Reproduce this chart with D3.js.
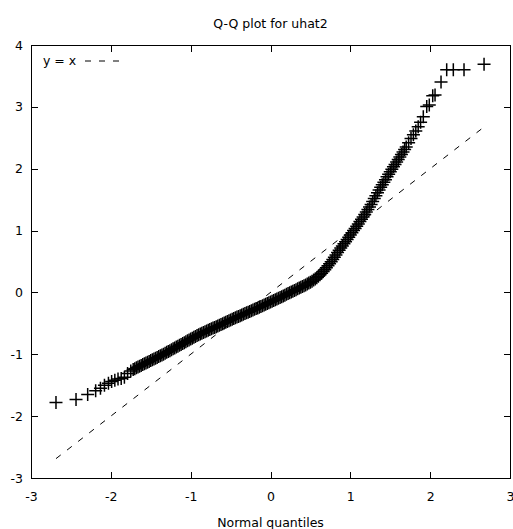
<!DOCTYPE html>
<html>
<head>
<meta charset="utf-8">
<script src="https://cdn.jsdelivr.net/npm/d3@7"></script>
<style>
body { margin: 0; background: #fff; }
svg { display: block; font-family: "DejaVu Sans", sans-serif; }
</style>
</head>
<body>
<svg width="513" height="529"></svg>
<script>
// normal quantiles (x) and sorted residuals of uhat2 (y)
var normalQ = [
  -2.687, -2.436, -2.29, -2.19, -2.13, -2.08, -2.03, -1.99, -1.95, -1.91, -1.87, -1.83, -1.79, -1.75,
  -1.72, -1.70, -1.68, -1.66, -1.64, -1.62, -1.60, -1.58, -1.56, -1.54, -1.52, -1.50, -1.48, -1.46,
  -1.44, -1.42, -1.40, -1.38, -1.36,
  -1.34, -1.32, -1.30, -1.28, -1.26, -1.24, -1.22, -1.20, -1.18, -1.16, -1.14, -1.12, -1.10, -1.08,
  -1.06, -1.04, -1.02, -1.00, -0.98, -0.96, -0.94,
  -0.92, -0.90, -0.88, -0.86, -0.84, -0.82, -0.80, -0.78, -0.76, -0.74, -0.72, -0.70, -0.68, -0.66,
  -0.64, -0.62, -0.60, -0.58, -0.56, -0.54, -0.52, -0.50,
  -0.48, -0.46, -0.44, -0.42, -0.40, -0.38, -0.36, -0.34, -0.32, -0.30, -0.28, -0.26, -0.24, -0.22,
  -0.20, -0.18, -0.16, -0.14, -0.12, -0.10,
  -0.08, -0.06, -0.04, -0.02, 0.00, 0.02, 0.04, 0.06, 0.08, 0.10,
  0.12, 0.14, 0.16, 0.18, 0.20, 0.22, 0.24, 0.26, 0.28, 0.30, 0.32,
  0.34, 0.36, 0.38, 0.40, 0.42, 0.44, 0.46, 0.48, 0.50, 0.52,
  0.54, 0.56, 0.58, 0.60, 0.62, 0.64, 0.66, 0.68, 0.70, 0.72, 0.74, 0.76, 0.78, 0.80, 0.82, 0.84,
  0.86, 0.88, 0.90, 0.92, 0.94, 0.96, 0.98, 1.00, 1.02, 1.04, 1.06, 1.08, 1.10, 1.12, 1.14, 1.16,
  1.18, 1.20, 1.22, 1.24, 1.26, 1.28, 1.30, 1.32, 1.34, 1.36, 1.38, 1.40, 1.42, 1.44, 1.46, 1.48,
  1.50, 1.52, 1.54, 1.56, 1.58, 1.60, 1.62, 1.64, 1.66, 1.68, 1.70,
  1.73, 1.76, 1.79, 1.82, 1.85, 1.88,
  1.914, 1.957, 1.989, 2.032, 2.061, 2.136, 2.207, 2.290, 2.424, 2.675
];
var sampleQ = [
  -1.78, -1.73, -1.65, -1.59, -1.55, -1.50, -1.47, -1.44, -1.42, -1.40, -1.39, -1.37, -1.31, -1.27,
  -1.245, -1.232, -1.219, -1.206, -1.193, -1.180, -1.167, -1.154, -1.141, -1.128, -1.115, -1.102, -1.089, -1.076,
  -1.063, -1.050, -1.037, -1.024, -1.011,
  -0.998, -0.984, -0.969, -0.955, -0.941, -0.926, -0.912, -0.898, -0.883, -0.869, -0.855, -0.840, -0.826, -0.812,
  -0.797, -0.783, -0.769, -0.754, -0.740, -0.726, -0.711,
  -0.697, -0.685, -0.673, -0.661, -0.649, -0.637, -0.625, -0.613, -0.601, -0.589, -0.577, -0.565, -0.553, -0.541,
  -0.529, -0.517, -0.505, -0.493, -0.481, -0.469, -0.457, -0.445,
  -0.434, -0.422, -0.411, -0.399, -0.388, -0.376, -0.365, -0.353, -0.342, -0.330, -0.319, -0.307, -0.296, -0.284,
  -0.273, -0.261, -0.250, -0.238, -0.227, -0.215,
  -0.203, -0.191, -0.179, -0.167, -0.155, -0.143, -0.131, -0.119, -0.107, -0.095,
  -0.082, -0.069, -0.057, -0.044, -0.031, -0.018, -0.005, 0.007, 0.020, 0.033, 0.045,
  0.058, 0.070, 0.083, 0.095, 0.109, 0.122, 0.136, 0.151, 0.166, 0.182,
  0.199, 0.218, 0.238, 0.260, 0.284, 0.310, 0.338, 0.367, 0.398, 0.430, 0.462, 0.495, 0.532, 0.570, 0.607, 0.645,
  0.682, 0.720, 0.752, 0.785, 0.821, 0.857, 0.893, 0.930, 0.965, 1.000, 1.035, 1.070, 1.107, 1.145, 1.182, 1.220,
  1.26, 1.30, 1.34, 1.38, 1.423, 1.47, 1.517, 1.563, 1.61, 1.657, 1.70, 1.74, 1.78, 1.823, 1.87, 1.91,
  1.95, 1.99, 2.03, 2.07, 2.11, 2.15, 2.19, 2.23, 2.27, 2.31, 2.35,
  2.42, 2.49, 2.55, 2.61, 2.68, 2.75,
  2.84, 3.006, 3.03, 3.18, 3.19, 3.40, 3.60, 3.60, 3.60, 3.69
];
var xTicks = [-3, -2, -1, 0, 1, 2, 3];
var yTicks = [-3, -2, -1, 0, 1, 2, 3, 4];

var svg = d3.select("svg"),
    width = +svg.attr("width"),
    height = +svg.attr("height");

var margin = { top: 45, right: 3, bottom: 51, left: 31 };
var x = d3.scaleLinear().domain([-3, 3]).range([margin.left, width - margin.right]);
var y = d3.scaleLinear().domain([-3, 4]).range([height - margin.bottom, margin.top]);
var fontSize = 12.5;
var plain = function (d) { return String(d); };

// axes: gnuplot style, ticks inward and mirrored
function styleAxis(g) {
  g.select(".domain").remove();
  g.attr("font-family", "DejaVu Sans, sans-serif").attr("font-size", fontSize);
  g.selectAll("line").attr("stroke", "#000").attr("shape-rendering", "crispEdges");
  g.selectAll("text").attr("fill", "#000");
}

svg.append("g")
  .attr("transform", "translate(0," + y(-3) + ")")
  .call(d3.axisBottom(x).tickValues(xTicks).tickSize(-6.5).tickPadding(14).tickFormat(plain))
  .call(styleAxis);
svg.append("g")
  .attr("transform", "translate(0," + y(4) + ")")
  .call(d3.axisTop(x).tickValues(xTicks).tickSize(-6.5).tickFormat(""))
  .call(styleAxis);
svg.append("g")
  .attr("transform", "translate(" + x(-3) + ",0)")
  .call(d3.axisLeft(y).tickValues(yTicks).tickSize(-6.5).tickPadding(8).tickFormat(plain))
  .call(styleAxis);
svg.append("g")
  .attr("transform", "translate(" + x(3) + ",0)")
  .call(d3.axisRight(y).tickValues(yTicks).tickSize(-6.5).tickFormat(""))
  .call(styleAxis);

svg.append("rect")
  .attr("x", x(-3))
  .attr("y", y(4))
  .attr("width", x(3) - x(-3))
  .attr("height", y(-3) - y(4))
  .attr("fill", "none")
  .attr("stroke", "#000")
  .attr("shape-rendering", "crispEdges");

// reference line y = x across the range of the normal quantiles
var ext = d3.extent(normalQ);
svg.append("line")
  .attr("x1", x(ext[0])).attr("y1", y(ext[0]))
  .attr("x2", x(ext[1])).attr("y2", y(ext[1]))
  .attr("stroke", "#000")
  .attr("stroke-width", 1)
  .attr("stroke-dasharray", "6,8");

// crosses
var points = normalQ.map(function (d, i) { return [d, sampleQ[i]]; });
var arm = 6.5;
svg.append("g")
  .attr("stroke", "#000")
  .attr("stroke-width", 1.5)
  .attr("fill", "none")
  .selectAll("path")
  .data(points)
  .enter().append("path")
  .attr("d", function (d) {
    var cx = x(d[0]), cy = y(d[1]);
    return "M" + (cx - arm) + "," + cy + "H" + (cx + arm) + "M" + cx + "," + (cy - arm) + "V" + (cy + arm);
  });

// key
svg.append("text")
  .attr("x", 43)
  .attr("y", 65)
  .attr("font-size", fontSize)
  .text("y = x");
svg.append("line")
  .attr("x1", 85).attr("x2", 119)
  .attr("y1", 61).attr("y2", 61)
  .attr("stroke", "#000")
  .attr("stroke-dasharray", "6,8");

// titles
svg.append("text")
  .attr("x", (x(-3) + x(3)) / 2)
  .attr("y", 27.5)
  .attr("text-anchor", "middle")
  .attr("font-size", fontSize)
  .text("Q-Q plot for uhat2");
svg.append("text")
  .attr("x", (x(-3) + x(3)) / 2)
  .attr("y", 526.5)
  .attr("text-anchor", "middle")
  .attr("font-size", fontSize)
  .text("Normal quantiles");
</script>
</body>
</html>
